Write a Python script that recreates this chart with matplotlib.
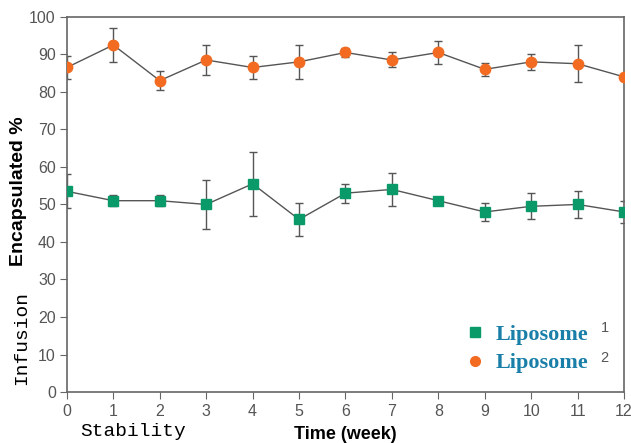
import matplotlib
matplotlib.use("Agg")
import matplotlib.pyplot as plt
from matplotlib.lines import Line2D

# data
weeks = [0, 1, 2, 3, 4, 5, 6, 7, 8, 9, 10, 11, 12]
lipo1 = [53.5, 51, 51, 50, 55.5, 46, 53, 54, 51, 48, 49.5, 50, 48]
lipo1_err = [4.5, 1.5, 1.5, 6.5, 8.5, 4.5, 2.5, 4.5, 1, 2.5, 3.5, 3.5, 3]
lipo2 = [86.5, 92.5, 83, 88.5, 86.5, 88, 90.5, 88.5, 90.5, 86, 88, 87.5, 84]
lipo2_err = [3, 4.5, 2.5, 4, 3, 4.5, 1.2, 2, 3, 1.8, 2.2, 5, 0]
yticks = [0, 10, 20, 30, 40, 50, 60, 70, 80, 90, 100]

green = "#0a9a6a"
orange = "#f26b21"
gray = "#555555"

plt.rcParams["font.family"] = "Liberation Sans"

fig = plt.figure(figsize=(6.31, 4.43), dpi=100)
ax = fig.add_axes([0.106, 0.115, 0.883, 0.847])

# error bars + connecting lines
ax.errorbar(weeks, lipo1, yerr=lipo1_err, color=gray, lw=1, elinewidth=1,
            capsize=3, capthick=1, zorder=2)
ax.errorbar(weeks, lipo2, yerr=lipo2_err, color=gray, lw=1, elinewidth=1,
            capsize=3, capthick=1, zorder=2)
ax.plot(weeks, lipo1, ls="none", marker="s", ms=7, color=green, zorder=3)
ax.plot(weeks, lipo2, ls="none", marker="o", ms=7.5, color=orange, zorder=3)

ax.set_xlim(0, 12)
ax.set_ylim(0, 100)
ax.set_xticks(weeks)
ax.set_yticks(yticks)
for s in ax.spines.values():
    s.set_color("#666666")
    s.set_linewidth(1.2)
ax.tick_params(axis="both", colors="#666666", labelcolor=gray, labelsize=11.5,
               direction="out", length=5)
ax.tick_params(axis="y", pad=3)

ax.set_ylabel("Encapsulated %", fontsize=14, fontweight="bold")
ax.yaxis.set_label_coords(-0.072, 0.536)
ax.set_xlabel("Time (week)", fontsize=13, fontweight="bold", labelpad=5)

handles = [Line2D([], [], ls="none", marker="s", ms=6.5, color=green),
           Line2D([], [], ls="none", marker="o", ms=7, color=orange)]
leg = ax.legend(handles, ["Liposome", "Liposome"], loc="lower right",
                bbox_to_anchor=(0.955, 0.02), frameon=False, handlelength=0.6,
                handletextpad=0.6, labelspacing=0.35, borderpad=0,
                prop={"family": "Liberation Serif", "weight": "bold", "size": 16})
for t in leg.get_texts():
    t.set_color("#1a7fa8")
ax.text(0.958, 0.16, "1", transform=ax.transAxes, fontsize=10.5, color=gray)
ax.text(0.958, 0.08, "2", transform=ax.transAxes, fontsize=10.5, color=gray)

fig.text(0.035, 0.237, "Infusion", rotation=90, family="Liberation Mono",
         fontsize=14, ha="center", va="center")
fig.text(0.211, 0.025, "Stability", family="Liberation Mono", fontsize=14,
         ha="center", va="center")

fig.savefig("out.png", dpi=100)
